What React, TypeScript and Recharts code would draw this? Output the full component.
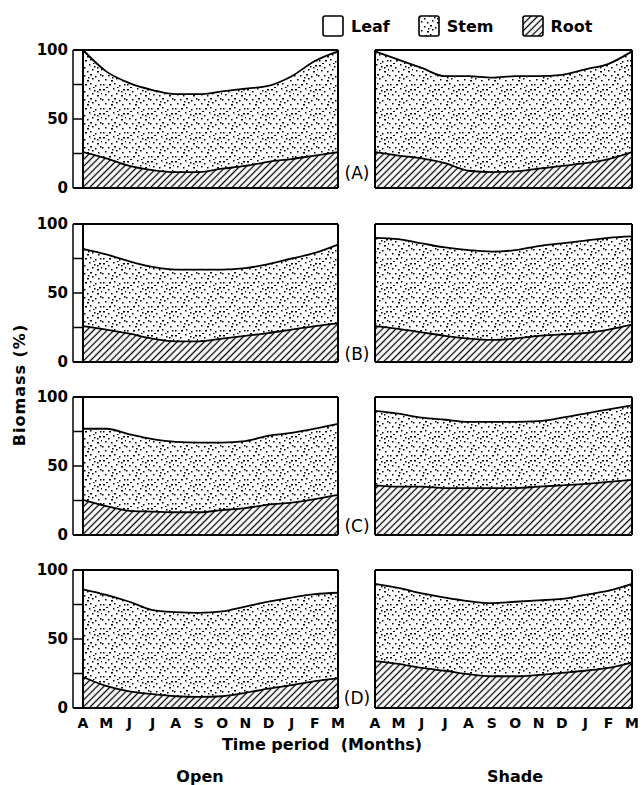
import { Area, AreaChart, CartesianGrid, Legend, XAxis, YAxis } from "recharts";

const months = ["A", "M", "J", "J", "A", "S", "O", "N", "D", "J", "F", "M"];
const yTicks = [0, 25, 50, 75, 100];

// root = top of hatched layer, top = top of stippled layer (root + stem), in %
const openARoot = [26, 21.5, 16, 13, 11.5, 11.5, 14, 16, 19, 21, 23.5, 26];
const openATop = [100, 84.5, 76, 71, 68, 68, 70, 72, 74, 81, 92, 99];
const shadeARoot = [26, 23.5, 21.5, 18, 12.5, 11.5, 12, 14, 16, 18, 21, 26];
const shadeATop = [99, 93, 87, 81, 81, 80, 81, 81, 82, 86, 90, 99];

const openBRoot = [26, 23.5, 20.5, 17, 15, 15, 17, 19, 21, 23.5, 26, 28];
const openBTop = [82, 78, 73, 69, 67, 67, 67, 68, 71, 75, 79, 85];
const shadeBRoot = [26, 24, 21.5, 19, 17, 16, 17, 19, 20, 21, 23.5, 27];
const shadeBTop = [90, 89, 86, 83, 81, 80, 81, 84, 86, 88, 90, 91];

const openCRoot = [25.5, 21, 17.5, 17, 16.5, 16.5, 18, 19.5, 22, 23.5, 26, 29];
const openCTop = [77, 77, 73, 69.5, 67.5, 67, 67, 68, 72, 74, 77, 80.5];
const shadeCRoot = [36, 35, 35, 34, 34, 34, 34, 35, 36, 37, 38.5, 40];
const shadeCTop = [90, 88, 85, 83.5, 82, 82, 82, 82.5, 85, 88, 91, 94];

const openDRoot = [22.5, 16, 12, 10, 8.5, 8, 8.5, 11, 14, 16.5, 19.5, 21.5];
const openDTop = [86, 82, 77, 71, 69.5, 69, 70, 73.5, 77, 80, 82.5, 83.5];
const shadeDRoot = [34, 32, 29, 27, 24.5, 23, 23, 24, 25.5, 27, 29, 33];
const shadeDTop = [90, 87, 83, 80, 77.5, 76, 77, 78, 79, 82, 85, 90];

const rows = [
  { tag: "A", open: [openARoot, openATop], shade: [shadeARoot, shadeATop] },
  { tag: "B", open: [openBRoot, openBTop], shade: [shadeBRoot, shadeBTop] },
  { tag: "C", open: [openCRoot, openCTop], shade: [shadeCRoot, shadeCTop] },
  { tag: "D", open: [openDRoot, openDTop], shade: [shadeDRoot, shadeDTop] },
];

const FONT = "DejaVu Sans, sans-serif";
const ROW_TOPS = [50, 224, 397, 570];
const TAG_Y = [173, 354, 526, 698];
const PLOT_H = 138;
const PAD = 10; // room above/below the box for the 0 / 100 labels
const LEFT_X = 30;
const AXIS_W = 43; // axis line at 73, box starts 10px further right
const RIGHT_X = 365;

// stipple positions inside one 24x24 tile
const DOTS = [
  [1, 1], [6, 3], [11, 0], [16, 2], [21, 1], [3, 6], [9, 7], [14, 5], [19, 7], [23, 5],
  [0, 11], [6, 11], [12, 10], [17, 12], [22, 10], [3, 15], [9, 16], [14, 14], [20, 16],
  [1, 20], [7, 20], [12, 19], [17, 21], [22, 20], [4, 23], [15, 23], [10, 13], [19, 3],
];

function Patterns({ id }: { id: string }) {
  return (
    <defs>
      <pattern id={`dots-${id}`} width={24} height={24} patternUnits="userSpaceOnUse">
        {DOTS.map(([x, y], k) => (
          <rect key={k} x={x} y={y} width={k % 4 === 0 ? 2 : 1.5} height={1.5} fill="#000" />
        ))}
      </pattern>
      <pattern
        id={`hatch-${id}`}
        width={4.8}
        height={4.8}
        patternUnits="userSpaceOnUse"
        patternTransform="rotate(45)"
      >
        <line x1={2.4} y1={0} x2={2.4} y2={4.8} stroke="#000" strokeWidth={1.3} />
      </pattern>
    </defs>
  );
}

function buildData(root: number[], top: number[]) {
  return months.map((m, i) => ({
    i,
    month: m,
    root: root[i],
    stem: top[i] - root[i],
    leaf: 100 - top[i],
  }));
}

function YTick({ x, y, payload }: any) {
  const v = payload.value;
  return (
    <g>
      <line x1={x} x2={x + 10} y1={y} y2={y} stroke="#000" strokeWidth={1.5} />
      {v % 50 === 0 && (
        <text x={x - 5} y={y} dy="0.36em" textAnchor="end" fontFamily={FONT} fontWeight="bold" fontSize={15} fill="#000">
          {v}
        </text>
      )}
    </g>
  );
}

const legendOrder = ["leaf", "stem", "root"];

function LegendContent({ payload, id }: any) {
  const items = legendOrder
    .map((k) => (payload || []).find((p: any) => p.dataKey === k))
    .filter(Boolean);
  const fills: Record<string, string> = {
    leaf: "#fff",
    stem: `url(#dots-${id}-lg)`,
    root: `url(#hatch-${id}-lg)`,
  };
  return (
    <div style={{ display: "flex", alignItems: "center", fontFamily: FONT, fontWeight: "bold", fontSize: 16 }}>
      <svg width={0} height={0} style={{ position: "absolute" }}>
        <Patterns id={`${id}-lg`} />
      </svg>
      {items.map((it: any, k: number) => (
        <div key={it.dataKey} style={{ display: "flex", alignItems: "center", marginLeft: k === 0 ? 0 : 28 }}>
          <svg width={23} height={23}>
            <rect x={1} y={1} width={20} height={20} rx={2} fill={fills[it.dataKey]} stroke="#000" strokeWidth={1.6} />
          </svg>
          <span style={{ marginLeft: 6 }}>{it.value}</span>
        </div>
      ))}
    </div>
  );
}

function Panel({
  root,
  top,
  id,
  left,
  rowTop,
  showX,
  legend,
}: {
  root: number[];
  top: number[];
  id: string;
  left: boolean;
  rowTop: number;
  showX: boolean;
  legend?: boolean;
}) {
  const data = buildData(root, top);
  const chartX = left ? LEFT_X : RIGHT_X;
  const bottom = showX ? 2 : PAD;
  const margin = left
    ? { top: PAD, right: 8, bottom, left: 0 }
    : { top: PAD, right: 6, bottom, left: 10 };
  const width = (left ? 338 : 632) + margin.right - chartX;
  const height = PAD + PLOT_H + bottom + (showX ? 24 : 0);
  return (
    <div style={{ position: "absolute", left: chartX, top: rowTop - PAD }}>
      <AreaChart width={width} height={height} data={data} margin={margin}>
        <Patterns id={id} />
        {/* frame of the panel: lines at the data limits */}
        <CartesianGrid
          horizontalValues={[0, 100]}
          verticalValues={[0, 11]}
          stroke="#000"
          strokeWidth={2}
          strokeOpacity={1}
        />
        <XAxis
          dataKey="i"
          type="number"
          domain={[0, 11]}
          ticks={months.map((_, i) => i)}
          interval={0}
          padding={{ left: left ? 10 : 0, right: 0 }}
          hide={!showX}
          height={24}
          axisLine={false}
          tickLine={false}
          tickSize={0}
          tickMargin={10}
          tick={{ fontFamily: FONT, fontWeight: "bold", fontSize: 14, fill: "#000" }}
          tickFormatter={(i: number) => months[i]}
        />
        <YAxis
          type="number"
          domain={[0, 100]}
          ticks={yTicks}
          interval={0}
          hide={!left}
          width={AXIS_W}
          axisLine={{ stroke: "#000", strokeWidth: 1.5 }}
          tickLine={false}
          tickSize={0}
          tickMargin={0}
          tick={<YTick />}
        />
        {legend && (
          <Legend
            layout="horizontal"
            verticalAlign="middle"
            align="center"
            wrapperStyle={{ left: 322 - RIGHT_X, top: 15 - (rowTop - PAD), width: "auto" }}
            content={(props: any) => <LegendContent {...props} id={id} />}
          />
        )}
        <Area
          type="monotone"
          dataKey="root"
          name="Root"
          stackId="s"
          fill={`url(#hatch-${id})`}
          fillOpacity={1}
          stroke="#000"
          strokeWidth={1.8}
          isAnimationActive={false}
        />
        <Area
          type="monotone"
          dataKey="stem"
          name="Stem"
          stackId="s"
          fill={`url(#dots-${id})`}
          fillOpacity={1}
          stroke="#000"
          strokeWidth={1.8}
          isAnimationActive={false}
        />
        <Area
          type="monotone"
          dataKey="leaf"
          name="Leaf"
          stackId="s"
          fill="none"
          stroke="none"
          isAnimationActive={false}
        />
      </AreaChart>
    </div>
  );
}

const textStyle: React.CSSProperties = {
  position: "absolute",
  fontFamily: FONT,
  fontWeight: "bold",
  fontSize: 16,
  whiteSpace: "pre",
  transform: "translate(-50%, -50%)",
  lineHeight: 1,
};

export default function App() {
  return (
    <div style={{ position: "absolute", left: 0, top: 0, width: 644, height: 785, background: "#fff" }}>
      {rows.map((r, k) => (
        <div key={r.tag}>
          <Panel root={r.open[0]} top={r.open[1]} id={`o${r.tag}`} left rowTop={ROW_TOPS[k]} showX={k === 3} />
          <Panel
            root={r.shade[0]}
            top={r.shade[1]}
            id={`s${r.tag}`}
            left={false}
            rowTop={ROW_TOPS[k]}
            showX={k === 3}
            legend={k === 0}
          />
          <div style={{ ...textStyle, left: 357, top: TAG_Y[k], fontWeight: "normal", fontSize: 17 }}>({r.tag})</div>
        </div>
      ))}
      <div
        style={{
          ...textStyle,
          left: 20,
          top: 385,
          letterSpacing: 1,
          transform: "translate(-50%, -50%) rotate(-90deg)",
        }}
      >
        Biomass (%)
      </div>
      <div style={{ ...textStyle, left: 322, top: 745 }}>Time period  (Months)</div>
      <div style={{ ...textStyle, left: 200, top: 777, fontWeight: 600 }}>Open</div>
      <div style={{ ...textStyle, left: 515, top: 777, fontWeight: 600 }}>Shade</div>
    </div>
  );
}
